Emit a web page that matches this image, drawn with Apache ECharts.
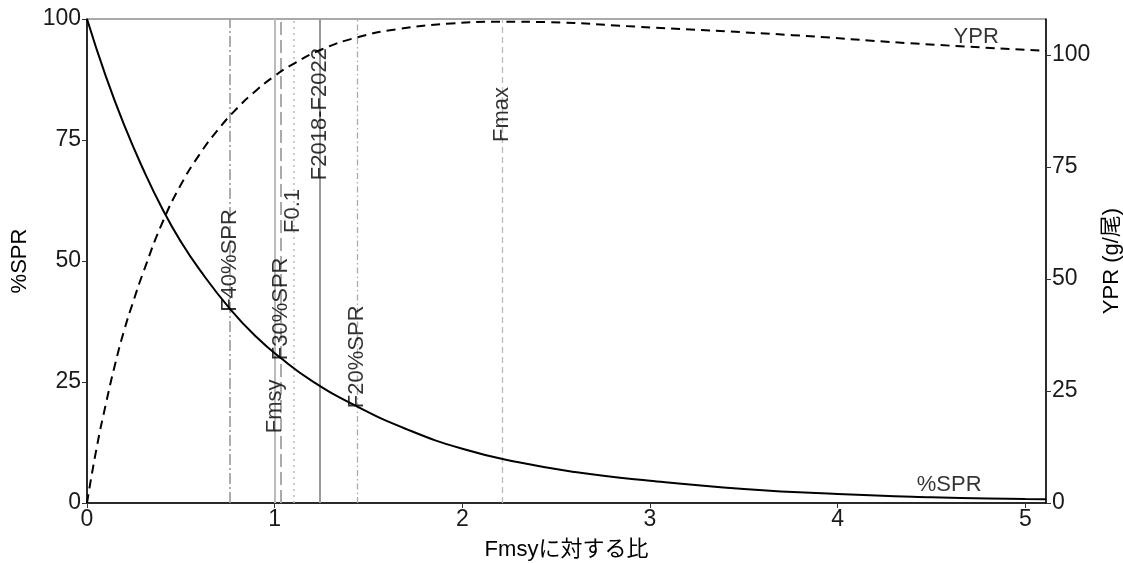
<!DOCTYPE html>
<html><head><meta charset="utf-8">
<script src="https://cdn.jsdelivr.net/npm/echarts@6/dist/echarts.min.js"></script>
<style>html,body{margin:0;padding:0;background:#fff}#c{width:1123px;height:563px}</style>
</head><body><div id="c"></div>
<script>
// %SPR curve (left axis)
const sprX = [0, 0.1, 0.2, 0.3, 0.4, 0.5, 0.6, 0.764, 0.9, 1.031, 1.2, 1.436, 1.7, 2.0, 2.3, 2.6, 3.0, 3.5, 4.0, 4.5, 5.0, 5.11];
const sprY = [100, 88.2, 77.9, 68.9, 60.9, 54.0, 48.2, 40.0, 34.4, 30.0, 25.2, 20.0, 15.3, 11.2, 8.4, 6.4, 4.6, 2.9, 1.85, 1.2, 0.82, 0.75];
// YPR curve (right axis, g/尾)
const yprX = [0, 0.05, 0.1, 0.15, 0.2, 0.25, 0.3, 0.4, 0.5, 0.6, 0.7, 0.8, 0.9, 1.0, 1.1, 1.25, 1.44, 1.65, 1.94, 2.21, 2.45, 2.92, 3.76, 4.38, 5.11];
const yprY = [0, 12.0, 22.0, 31.0, 38.8, 45.4, 51.5, 62.4, 71.0, 77.8, 83.4, 88.1, 92.0, 95.3, 98.0, 101.2, 103.9, 105.7, 107.0, 107.4, 107.3, 106.3, 104.4, 102.6, 100.9];
// reference points
const refNames = ['F40%SPR', 'Fmsy', 'F30%SPR', 'F0.1', 'F2018-F2022', 'F20%SPR', 'Fmax'];
const refX = [0.764, 1.0, 1.031, 1.099, 1.241, 1.436, 2.213];
const refLabelY = [39.5, 14.4, 29.5, 55.8, 66.7, 19.6, 74.6];
// curve labels
const curveNames = ['%SPR', 'YPR'];
const curveLabelX = [4.594, 4.738];
const curveLabelY = [3.7, 96.3];
// ticks
const xTicks = [0, 1, 2, 3, 4, 5];
const rightTicks = [0, 25, 50, 75, 100];

const FONT = "'Liberation Sans', 'Noto Sans CJK JP', sans-serif";
const refStyles = [
  {color: '#999', width: 1.6, type: [11, 3, 2, 3]},
  {color: '#bbb', width: 2, type: 'solid'},
  {color: '#aaa', width: 2, type: [13, 5]},
  {color: '#bbb', width: 1.5, type: [2, 4]},
  {color: '#999', width: 2, type: 'solid'},
  {color: '#aaa', width: 1.3, type: [6, 3, 1.5, 3]},
  {color: '#bbb', width: 1.3, type: [6, 4]}
];

const chart = echarts.init(document.getElementById('c'), null, {renderer: 'canvas'});
const axisTextStyle = {color: '#1a1a1a', fontSize: 23, fontFamily: FONT};
const titleStyle = {color: '#000', fontSize: 22, fontFamily: FONT};
chart.setOption({
  animation: false,
  backgroundColor: '#fff',
  grid: {left: 87, right: 77, top: 19, bottom: 60, show: true, borderColor: '#555', borderWidth: 1,
    containLabel: false, outerBoundsMode: 'none'},
  xAxis: {
    type: 'value', min: 0, max: 5.11,
    name: 'Fmsyに対する比', nameLocation: 'middle', nameGap: 36,
    nameTextStyle: titleStyle,
    axisLine: {show: true, onZero: false, lineStyle: {color: '#000', width: 1.5}},
    axisTick: {show: true, length: 5, customValues: xTicks, lineStyle: {color: '#333'}},
    axisLabel: Object.assign({margin: 5, customValues: xTicks}, axisTextStyle),
    splitLine: {show: false}
  },
  yAxis: [{
    type: 'value', min: 0, max: 100, interval: 25, position: 'left',
    name: '%SPR', nameLocation: 'middle', nameGap: 56, nameRotate: 90,
    nameTextStyle: titleStyle,
    axisLine: {show: true, onZero: false, lineStyle: {color: '#000', width: 1.5}},
    axisTick: {show: true, length: 5, lineStyle: {color: '#333'}},
    axisLabel: Object.assign({margin: 6}, axisTextStyle),
    splitLine: {show: false}
  }, {
    type: 'value', min: 0, max: 108, position: 'right',
    name: 'YPR (g/尾)', nameLocation: 'middle', nameGap: 55, nameRotate: 90,
    nameTextStyle: titleStyle,
    axisLine: {show: true, onZero: false, lineStyle: {color: '#000', width: 1.5}},
    axisTick: {show: true, length: 5, customValues: rightTicks, lineStyle: {color: '#333'}},
    axisLabel: Object.assign({margin: 6, customValues: rightTicks}, axisTextStyle),
    splitLine: {show: false}
  }],
  series: [{
    name: '%SPR', type: 'line', yAxisIndex: 0, symbol: 'none', smooth: 0.5,
    data: sprX.map((x, i) => [x, sprY[i]]),
    lineStyle: {color: '#000', width: 2},
    z: 5,
    markLine: {
      silent: true, symbol: 'none', animation: false,
      label: {show: false},
      data: refX.map((x, i) => ({xAxis: x, lineStyle: refStyles[i]}))
    }
  }, {
    name: 'YPR', type: 'line', yAxisIndex: 1, symbol: 'none', smooth: 0.5,
    data: yprX.map((x, i) => [x, yprY[i]]),
    lineStyle: {color: '#000', width: 2, type: [9, 6]},
    z: 5
  }, {
    type: 'scatter', yAxisIndex: 0, symbolSize: 0, silent: true, z: 6,
    data: refNames.map((n, i) => ({name: n, value: [refX[i], refLabelY[i]]})),
    label: {show: true, formatter: p => p.name, position: [0, 0], rotate: 90,
      align: 'left', verticalAlign: 'middle', color: '#000', fontSize: 22, fontFamily: FONT}
  }, {
    type: 'scatter', yAxisIndex: 0, symbolSize: 0, silent: true, z: 6,
    data: curveNames.map((n, i) => ({name: n, value: [curveLabelX[i], curveLabelY[i]]})),
    label: {show: true, formatter: p => p.name, position: [0, 0],
      align: 'center', verticalAlign: 'middle', color: '#000', fontSize: 22, fontFamily: FONT}
  }]
});
</script>
</body></html>
